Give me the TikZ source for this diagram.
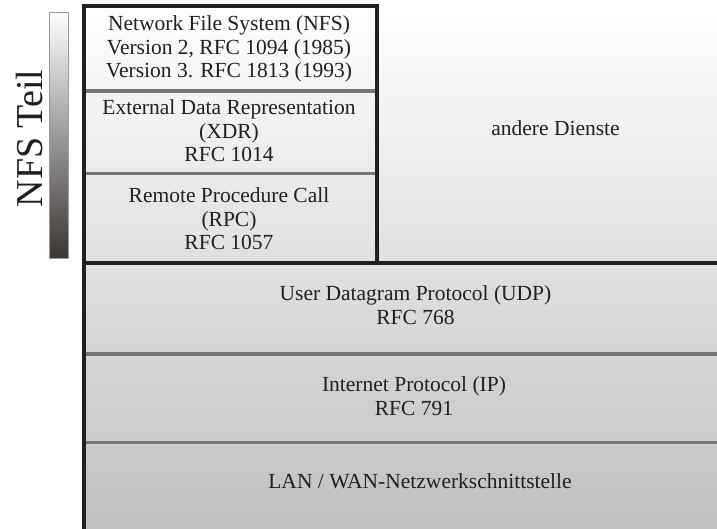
\documentclass[tikz,border=0pt]{standalone}
\usepackage{fontspec}
\setmainfont{Liberation Serif}
\definecolor{ink}{HTML}{231F20}
\definecolor{sepgray}{HTML}{767676}
\definecolor{bgbottom}{HTML}{C0C0C0}
\definecolor{bardark}{HTML}{3A3634}
\begin{document}
\begin{tikzpicture}[x=1pt,y=-1pt,
  lbl/.style={text=ink, font=\fontsize{21.5}{23.8}\selectfont, align=center, inner sep=0pt, anchor=base},
  darkline/.style={draw=ink, line width=3.8pt, line join=miter},
  sepline/.style={draw=sepgray, line width=3.6pt}]
\useasboundingbox (0,0) rectangle (717,529);

% background of the protocol stack
\shade[top color=white, bottom color=bgbottom] (84,5) rectangle (717,529);

% bar marking the NFS part
\shade[top color=white, bottom color=bardark, draw=gray!80, line width=0.8pt] (49,12) rectangle (68.5,258);
\node[text=ink, font=\fontsize{38}{40}\selectfont, rotate=90, anchor=base, inner sep=0pt] (teil) at (42.5,138.5) {NFS Teil};

% corner points of the layers
\coordinate (TL) at (84,6);
\coordinate (TR) at (377,6);
\coordinate (ML) at (84,263);
\coordinate (MR) at (377,263);
\coordinate (RE) at (717,263);
\coordinate (BL) at (84,529);
\coordinate (s1l) at (84,91);
\coordinate (s1r) at (377,91);
\coordinate (s2l) at (84,173.7);
\coordinate (s2r) at (377,173.7);
\coordinate (s3l) at (84,354);
\coordinate (s3r) at (717,354);
\coordinate (s4l) at (84,442.5);
\coordinate (s4r) at (717,442.5);

% separators between layers
\draw[sepline] (s1l) -- (s1r);
\draw[sepline] (s2l) -- (s2r);
\draw[sepline] (s3l) -- (s3r);
\draw[sepline] (s4l) -- (s4r);

% frame of the NFS part
\draw[darkline] (MR) -- (TR) -- (TL) -- (BL);
\draw[darkline] (ML) -- (RE);

% layer labels (anchored at the baseline of their last line)
\node[lbl] (nfs) at (229,77.9) {Network File System (NFS)\\Version 2, RFC 1094 (1985)\\Version 3. RFC 1813 (1993)};
\node[lbl] (xdr) at (229,162) {External Data Representation\\(XDR)\\RFC 1014};
\node[lbl] (rpc) at (229,250) {Remote Procedure Call\\(RPC)\\RFC 1057};
\node[lbl] (other) at (555.5,136) {andere Dienste};
\node[lbl] (udp) at (415.5,324.5) {User Datagram Protocol (UDP)\\RFC 768};
\node[lbl] (ip) at (414,415.7) {Internet Protocol (IP)\\RFC 791};
\node[lbl] (lan) at (420,488.3) {LAN / WAN-Netzwerkschnittstelle};
\end{tikzpicture}
\end{document}
